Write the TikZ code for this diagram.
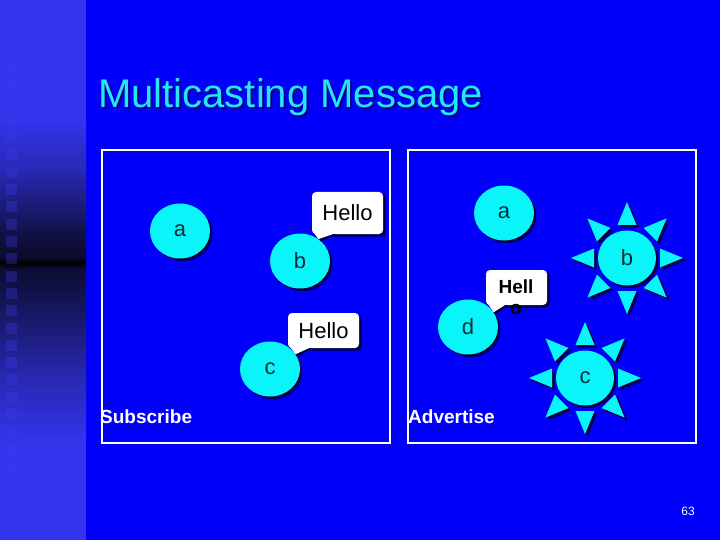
\documentclass[tikz,border=0pt]{standalone}
\usepackage{fontspec}
\setmainfont{Liberation Sans}
\usetikzlibrary{shapes.geometric,calc,shadows}
\definecolor{bgblue}{RGB}{0,0,250}
\definecolor{stripA}{RGB}{52,52,236}
\definecolor{stripB}{RGB}{40,40,180}
\definecolor{stripC}{RGB}{18,18,75}
\definecolor{stripD}{RGB}{10,10,40}
\definecolor{stripE}{RGB}{12,12,50}
\definecolor{stripF}{RGB}{20,20,85}
\definecolor{stripG}{RGB}{38,38,170}
\definecolor{sqc}{RGB}{60,60,240}
\definecolor{cyanc}{RGB}{10,245,250}
\definecolor{titlec}{RGB}{40,230,250}
\definecolor{titlesh}{RGB}{0,0,140}
\definecolor{shadowc}{RGB}{0,0,70}
\definecolor{txtc}{RGB}{10,45,55}
\tikzset{
  shad/.style={drop shadow={shadow xshift=2.5pt,shadow yshift=-2.5pt,fill=shadowc,opacity=1}},
  bubble/.style={ellipse,fill=cyanc,minimum width=60pt,minimum height=55pt,inner sep=0pt,
    font=\fontsize{22}{26}\selectfont,text=txtc,shad},
  sunc/.style={ellipse,fill=cyanc,minimum width=58pt,minimum height=55pt,inner sep=0pt,
    font=\fontsize{22}{26}\selectfont,text=txtc,shad},
  callbox/.style={rectangle,rounded corners=4pt,fill=white,inner sep=0pt,
    font=\fontsize{22}{26}\selectfont,text=black,shad},
  panel/.style={draw=white,line width=1.8pt},
  caption/.style={font=\bfseries\fontsize{19}{22}\selectfont,text=white,anchor=base west,inner sep=0pt},
}
\newcommand{\sunrays}[1]{%
  \foreach \a in {0,45,...,315}{
    \fill[shadowc] ($(#1)+(2.5,2.5)+(\a:56)$) -- ($(#1)+(2.5,2.5)+(\a:33)+(\a+90:9.5)$) -- ($(#1)+(2.5,2.5)+(\a:33)+(\a-90:9.5)$) -- cycle;
  }
  \foreach \a in {0,45,...,315}{
    \fill[cyanc] ($(#1)+(\a:56)$) -- ($(#1)+(\a:33)+(\a+90:9.5)$) -- ($(#1)+(\a:33)+(\a-90:9.5)$) -- cycle;
  }}
\begin{document}
\begin{tikzpicture}[x=1pt,y=-1pt]
\useasboundingbox (0,0) rectangle (720,540);
\fill[bgblue] (0,0) rectangle (720,540);
% left strip
\fill[stripA] (0,0) rectangle (86,120.5);
\shade[top color=stripA,bottom color=stripB] (0,120) rectangle (86,170.5);
\shade[top color=stripB,bottom color=stripC] (0,170) rectangle (86,230.5);
\shade[top color=stripC,bottom color=stripD] (0,230) rectangle (86,258.5);
\shade[top color=stripD,bottom color=black] (0,258) rectangle (86,263);
\shade[top color=black,bottom color=stripE] (0,262.5) rectangle (86,268.5);
\shade[top color=stripE,bottom color=stripF] (0,268) rectangle (86,300.5);
\shade[top color=stripF,bottom color=stripG] (0,300) rectangle (86,370.5);
\shade[top color=stripG,bottom color=stripA] (0,370) rectangle (86,440.5);
\fill[stripA] (0,440) rectangle (86,540);
\foreach \i in {0,...,23}{
  \fill[sqc,opacity=.3] (6,{63+17.3*\i}) rectangle ++(11,11);
}
% title
\node[anchor=base west,inner sep=0pt,font=\fontsize{40}{46}\selectfont,text=titlesh] at (100,110) {Multicasting Message};
\node (title) [anchor=base west,inner sep=0pt,font=\fontsize{40}{46}\selectfont,text=titlec] at (98,108) {Multicasting Message};
% panels
\draw[panel] (102,150) rectangle (390,443);
\draw[panel] (408,150) rectangle (696,443);
% left panel
\node (la) [bubble] at (180,231) {a};
\node (lb) [bubble] at (300,261) {b};
\node (lc) [bubble] at (270,369) {c};
\node (h1) [callbox,minimum width=71pt,minimum height=42pt] at (347.5,213) {Hello};
\fill[shadowc] ([xshift=4pt]h1.south west) -- ([xshift=2.5pt,yshift=-2.5pt]lb.50) -- ([xshift=24pt]h1.south west) -- cycle;
\fill[white] ([xshift=1pt,yshift=3pt]h1.south west) -- (lb.50) -- ([xshift=21pt]h1.south west) -- cycle;
\node (h2) [callbox,minimum width=71pt,minimum height=35pt] at (323.5,330.5) {Hello};
\fill[shadowc] ([xshift=4pt]h2.south west) -- ([xshift=2.5pt,yshift=-2.5pt]lc.30) -- ([xshift=24pt]h2.south west) -- cycle;
\fill[white] ([xshift=1pt,yshift=3pt]h2.south west) -- (lc.30) -- ([xshift=21pt]h2.south west) -- cycle;
\node (sub) [caption] at (100,423) {Subscribe};
% right panel
\node (ra) [bubble] at (504,213) {a};
\node (rd) [bubble] at (468,327) {d};
\coordinate (rbc) at (627,258);
\coordinate (rcc) at (585,378);
\sunrays{rbc}
\sunrays{rcc}
\node (rb) [sunc] at (rbc) {b};
\node (rc) [sunc] at (rcc) {c};
\node (hb) [callbox,minimum width=61pt,minimum height=35pt] at (516.5,287.5) {};
\fill[shadowc] ([xshift=4pt]hb.south west) -- ([xshift=2.5pt,yshift=-2.5pt]rd.30) -- ([xshift=22pt]hb.south west) -- cycle;
\fill[white] ([xshift=1pt,yshift=3pt]hb.south west) -- (rd.30) -- ([xshift=19pt]hb.south west) -- cycle;
\node (hbt) [anchor=north,inner sep=0pt,align=center,font=\bfseries\fontsize{19}{21}\selectfont,text=black] at (516,280) {Hell\\o};
\node (adv) [caption] at (408,423) {Advertise};
% page number
\node (pg) [font=\fontsize{12}{14}\selectfont,text=white] at (688,511) {63};
\end{tikzpicture}
\end{document}
